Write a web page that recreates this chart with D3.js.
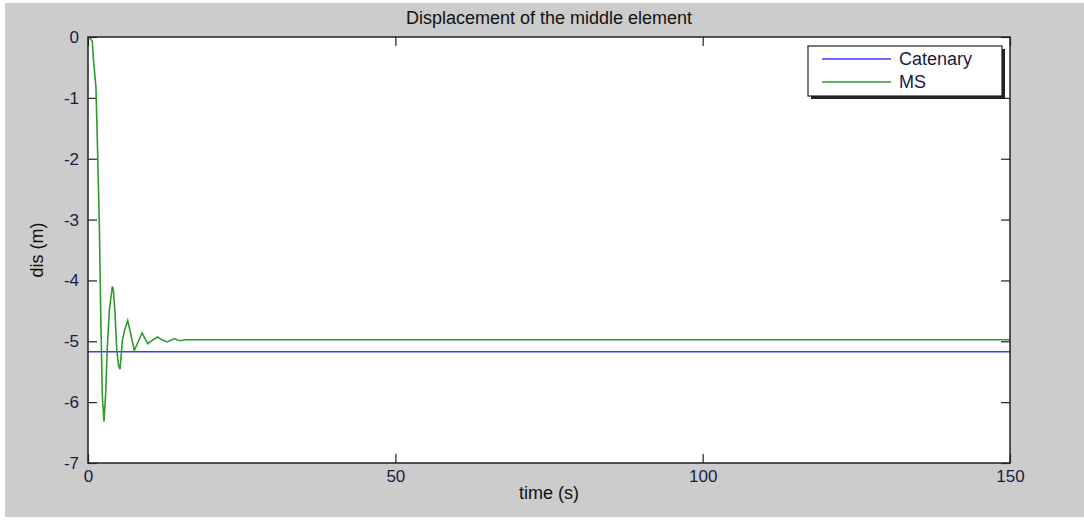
<!DOCTYPE html>
<meta charset="utf-8">
<style>
body { margin: 0; background: #fff; }
svg { display: block; }
.tick text { font-family: "Liberation Sans", Arial, sans-serif; font-size: 17px; fill: #1a1a44; }
.lbl { font-family: "Liberation Sans Narrow", "Liberation Sans", Arial, sans-serif; font-size: 18px; fill: #111; }
</style>
<svg id="chart" width="1084" height="520"></svg>
<script src="https://cdnjs.cloudflare.com/ajax/libs/d3/7.8.5/d3.min.js"></script>
<script>
// values
var msTime = [0, 0.35, 0.7, 0.87, 1.3, 1.57, 1.85, 2.06, 2.33, 2.6, 2.88, 3.15, 3.48, 3.96, 4.12, 4.4, 4.67, 5.0, 5.21, 5.6, 6.0, 6.46, 7.0, 7.54, 8.2, 8.8, 9.3, 9.72, 10.5, 11.3, 12.1, 12.9, 14.0, 15.0, 15.8, 150];
var msDis  = [0, -0.02, -0.07, -0.35, -0.84, -1.92, -3.12, -4.48, -5.9, -6.32, -5.85, -5.08, -4.48, -4.1, -4.15, -4.53, -5.14, -5.41, -5.46, -4.98, -4.8, -4.66, -4.9, -5.15, -5.0, -4.86, -4.96, -5.04, -4.98, -4.93, -4.98, -5.01, -4.96, -4.99, -4.975, -4.975];
var catTime = [0, 150];
var catDis = [-5.17, -5.17];
var xTicks = [0, 50, 100, 150];
var yTicks = [0, -1, -2, -3, -4, -5, -6, -7];
var seriesNames = ["Catenary", "MS"];
var seriesColors = ["#3a3aff", "#2f9a2f"];

var svg = d3.select("#chart");
var W = 1084, H = 520;
var pL = 88, pR = 1010, pT = 37, pB = 463;

// figure background
svg.append("rect").attr("x", 5).attr("y", 3).attr("width", W - 5).attr("height", 514).attr("fill", "#cccccc");

var x = d3.scaleLinear().domain([0, 150]).range([pL, pR]);
var y = d3.scaleLinear().domain([-7, 0]).range([pB, pT]);

svg.append("rect").attr("x", pL).attr("y", pT).attr("width", pR - pL).attr("height", pB - pT).attr("fill", "#fff");

var tl = 9;
var fmt = function(d){ return String(d); };
svg.append("g").attr("transform", "translate(0," + pB + ")")
  .call(d3.axisBottom(x).tickValues(xTicks).tickFormat(fmt).tickSizeInner(-tl).tickSizeOuter(0).tickPadding(7))
  .call(function(g){ g.select(".domain").remove(); });
svg.append("g").attr("transform", "translate(0," + pT + ")")
  .call(d3.axisTop(x).tickValues(xTicks).tickSizeInner(-tl).tickSizeOuter(0).tickFormat(""))
  .call(function(g){ g.select(".domain").remove(); });
svg.append("g").attr("transform", "translate(" + pL + ",0)")
  .call(d3.axisLeft(y).tickValues(yTicks).tickFormat(fmt).tickSizeInner(-tl).tickSizeOuter(0).tickPadding(9))
  .call(function(g){ g.select(".domain").remove(); });
svg.append("g").attr("transform", "translate(" + pR + ",0)")
  .call(d3.axisRight(y).tickValues(yTicks).tickSizeInner(-tl).tickSizeOuter(0).tickFormat(""))
  .call(function(g){ g.select(".domain").remove(); });
svg.selectAll(".tick line").attr("stroke", "#222").attr("stroke-width", 1.2);

var line = d3.line().x(function(d){ return x(d[0]); }).y(function(d){ return y(d[1]); });
var cat = d3.zip(catTime, catDis), ms = d3.zip(msTime, msDis);

svg.append("path").datum(cat).attr("d", line).attr("fill", "none").attr("stroke", seriesColors[0]).attr("stroke-width", 1.5);
svg.append("path").datum(ms).attr("d", line).attr("fill", "none").attr("stroke", seriesColors[1]).attr("stroke-width", 1.6);

// plot box
svg.append("rect").attr("x", pL).attr("y", pT).attr("width", pR - pL).attr("height", pB - pT)
  .attr("fill", "none").attr("stroke", "#222").attr("stroke-width", 1.5);

// titles
svg.append("text").attr("class", "lbl").attr("x", (pL + pR) / 2).attr("y", 24).attr("text-anchor", "middle").text("Displacement of the middle element");
svg.append("text").attr("class", "lbl").attr("x", (pL + pR) / 2).attr("y", 499).attr("text-anchor", "middle").text("time (s)");
svg.append("text").attr("class", "lbl").attr("transform", "translate(43," + ((pT + pB) / 2) + ") rotate(-90)").attr("text-anchor", "middle").text("dis (m)");

// legend
var lx = 808, ly = 46, lw = 194, lh = 50;
svg.append("rect").attr("x", lx + 3).attr("y", ly + 3).attr("width", lw).attr("height", lh).attr("fill", "#222");
svg.append("rect").attr("x", lx).attr("y", ly).attr("width", lw).attr("height", lh).attr("fill", "#fff").attr("stroke", "#222").attr("stroke-width", 1.2);
seriesNames.forEach(function(name, i){
  var yy = ly + 13 + i * 23;
  svg.append("line").attr("x1", lx + 14).attr("x2", lx + 83).attr("y1", yy).attr("y2", yy).attr("stroke", seriesColors[i]).attr("stroke-width", 1.5);
  svg.append("text").attr("x", lx + 91).attr("y", yy + 6).attr("font-family", "Liberation Sans, Arial, sans-serif").attr("font-size", 18).attr("fill", "#1a1a44").text(name);
});
</script>
